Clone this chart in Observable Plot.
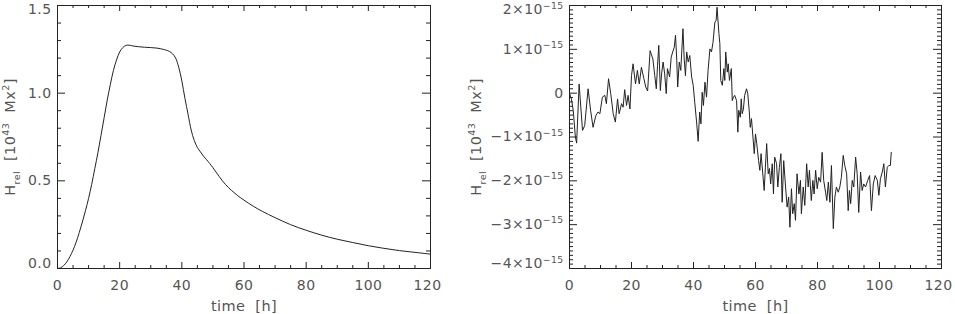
<!DOCTYPE html>
<html><head><meta charset="utf-8">
<script src="https://cdn.jsdelivr.net/npm/d3@7"></script>
<script src="https://cdn.jsdelivr.net/npm/@observablehq/plot@0.6"></script>
<style>
html,body{margin:0;padding:0;background:#fff;}
#wrap{display:flex;width:955px;height:314px;overflow:hidden;}
#wrap svg{display:block;}
</style></head><body><div id="wrap"></div>
<script>
// ---- Left panel: relative helicity, units 1e43 Mx^2 ----
const leftTime = [0,1,2,3,4,5,6,7,8,9,10,11,12,13,14,15,16,17,18,19,20,21,22,23,24,26,28,30,32,34,35,36,37,38,39,40,41,42,43,44,45,46,47,48,50,52,54,56,58,60,63,66,70,75,80,85,90,95,100,105,110,115,120];
const leftH = [0,0.004,0.017,0.038,0.068,0.105,0.15,0.205,0.265,0.33,0.40,0.48,0.57,0.66,0.76,0.86,0.96,1.05,1.13,1.19,1.235,1.26,1.272,1.274,1.27,1.265,1.262,1.26,1.257,1.25,1.245,1.238,1.225,1.20,1.148,1.07,0.97,0.88,0.79,0.73,0.69,0.665,0.64,0.62,0.575,0.525,0.48,0.445,0.415,0.39,0.355,0.325,0.29,0.25,0.218,0.19,0.167,0.148,0.13,0.115,0.102,0.092,0.082];

// ---- Right panel: residual, units 1e-15 (x 1e43 Mx^2) ----
const rightTime = [0,0.6,1.2,1.9,2.3,3.1,4.2,4.9,6.0,6.8,7.6,8.5,9.2,9.8,10.6,11.4,11.9,12.6,13.3,14.1,14.8,15.5,16.0,16.8,17.3,17.8,18.4,18.9,19.5,20.0,20.5,21.3,21.9,22.5,23.2,24.0,24.6,25.2,26.0,26.9,27.5,28.0,28.4,28.8,29.3,29.7,30.2,30.7,31.2,31.6,32.3,32.8,33.3,33.8,34.2,34.6,34.9,35.4,35.9,36.6,37.0,37.4,37.8,38.3,38.8,39.4,39.9,40.4,41.0,41.5,42.0,42.4,42.8,43.2,43.7,44.2,44.7,45.3,45.8,46.3,46.9,47.3,47.6,48.2,48.5,48.8,49.3,49.8,50.1,50.4,50.9,51.2,51.6,52.2,52.5,52.9,53.3,53.9,54.3,54.6,55.1,55.4,55.7,56.1,56.5,57.1,57.5,58.0,58.3,58.7,59.1,59.6,60.0,60.4,61.0,61.4,61.8,62.3,62.8,63.2,63.6,64.1,64.5,64.9,65.4,65.8,66.2,66.8,67.2,67.7,68.2,68.6,69.1,69.7,70.2,70.7,71.1,71.6,72.0,72.5,72.9,73.4,74.0,74.5,74.8,75.4,75.9,76.5,77.0,77.4,78.0,78.5,78.9,79.4,79.9,80.4,81.0,81.5,82.0,82.6,83.0,83.5,84.0,84.5,85.1,85.6,86.1,86.7,87.2,87.7,88.3,88.8,89.4,89.9,90.3,90.7,91.2,91.7,92.3,92.8,93.3,93.9,94.4,94.9,95.5,96.2,96.8,97.4,98.0,98.6,99.3,99.8,100.3,100.9,101.4,101.9,102.5,103.0,103.5,103.8];
const rightH = [0,-0.13,-0.39,-1.0,-1.14,0.21,-0.85,-0.74,0.1,-0.39,-0.78,-0.51,-0.43,-0.47,-0.09,-0.05,-0.24,0.33,-0.01,-0.47,-0.66,-0.13,-0.47,-0.24,-0.32,0.08,-0.28,-0.05,-0.36,0.40,0.67,0.21,0.52,0.21,0.59,0.33,0.14,0.05,0.97,0.78,0.40,0.10,0.63,1.09,0.06,0.44,0.71,0.44,-0.01,0.56,0.37,0.82,0.94,1.05,1.32,0.75,0.14,0.71,0.52,1.47,0.78,0.40,0.94,0.71,0.86,0.37,0.18,-0.21,-0.66,-1.10,-0.43,-0.70,0.02,-0.28,0.25,-0.09,0.52,1.01,0.94,1.16,1.62,1.66,1.96,1.36,1.13,0.29,0.18,0.56,0.29,0.94,0.48,0.67,0.29,0.56,-0.17,-0.09,-0.05,-0.17,-0.89,-0.39,-0.55,-0.13,-0.47,-0.36,-0.05,0.10,-0.01,-0.43,-0.78,-0.58,-0.93,-1.38,-0.93,-1.15,-1.54,-1.76,-1.38,-1.80,-2.22,-1.69,-1.15,-1.84,-1.72,-2.07,-1.61,-2.30,-1.46,-1.61,-2.14,-1.69,-1.38,-2.49,-1.54,-2.14,-2.60,-2.37,-3.06,-2.18,-2.75,-2.52,-2.90,-1.84,-2.30,-1.99,-2.75,-2.14,-2.56,-1.61,-2.14,-1.76,-2.45,-1.99,-2.30,-1.76,-2.18,-1.92,-2.03,-1.35,-1.99,-2.26,-2.45,-2.03,-2.49,-1.65,-3.09,-2.37,-2.14,-2.26,-2.14,-1.92,-1.42,-1.65,-1.84,-2.68,-2.22,-2.52,-1.99,-2.14,-1.46,-1.84,-2.72,-1.80,-2.22,-2.07,-2.14,-1.99,-1.88,-2.68,-2.07,-1.88,-1.99,-2.33,-1.95,-1.80,-1.61,-2.14,-1.69,-1.65,-1.65,-1.35];

// ---- Ticks and labels ----
const xMajor = [0,20,40,60,80,100,120];
const xMinor = [5,10,15,25,30,35,45,50,55,65,70,75,85,90,95,105,110,115];
const leftYMajor = [0,0.5,1.0,1.5];
const leftYMinor = [0.1,0.2,0.3,0.4,0.6,0.7,0.8,0.9,1.1,1.2,1.3,1.4];
const rightYMajor = [-4,-3,-2,-1,0,1,2];
const rightYMinor = d3.range(-40,21).map(v=>v/10).filter(v=>Math.abs(v-Math.round(v))>1e-6);
const xTitle = "time  [h]";
const yTitle = "H_{rel}  [10^{43}  Mx^{2}]";

const FONT = "DejaVu Sans";
const INK = "#222", TXT = "#555";

function panel(o) {
  const height = 314, marginTop = 5, marginBottom = 46;
  const FH = height - marginTop - marginBottom;
  const FW = o.width - o.marginLeft - o.marginRight;
  const yMid = o.yMajor.slice(1, -1);
  const yLo = [o.yMajor[0]], yHi = [o.yMajor[o.yMajor.length-1]];
  const xMid = xMajor.slice(0, -1), xHi = [xMajor[xMajor.length-1]];
  const ya = (t, dy) => Plot.axisY(t, {tickSize: 0, tickPadding: 6, tickFormat: o.yFormat, dy, fill: TXT, label: null});
  const xa = (t, dx) => Plot.axisX(t, {tickSize: 0, tickPadding: 12, tickFormat: d => String(d), dx, fill: TXT, label: null});
  return Plot.plot({
    width: o.width, height, marginTop, marginBottom, marginLeft: o.marginLeft, marginRight: o.marginRight,
    x: {domain: [0, 120], label: null},
    y: {domain: o.yDomain, label: null},
    style: {fontFamily: FONT, fontSize: "14px", letterSpacing: "0.4px", background: "white", color: TXT},
    marks: [
      // inward ticks, all four sides
      Plot.ruleX(xMajor, {x: d => d, insetTop: FH - 6, stroke: INK}),
      Plot.ruleX(xMajor, {x: d => d, insetBottom: FH - 6, stroke: INK}),
      Plot.ruleX(xMinor, {x: d => d, insetTop: FH - 3, stroke: INK}),
      Plot.ruleX(xMinor, {x: d => d, insetBottom: FH - 3, stroke: INK}),
      Plot.ruleY(o.yMajor, {y: d => d, insetRight: FW - 8, stroke: INK}),
      Plot.ruleY(o.yMajor, {y: d => d, insetLeft: FW - 8, stroke: INK}),
      Plot.ruleY(o.yMinor, {y: d => d, insetRight: FW - 4, stroke: INK}),
      Plot.ruleY(o.yMinor, {y: d => d, insetLeft: FW - 4, stroke: INK}),
      Plot.frame({stroke: INK}),
      ya(yMid, 0), ya(yLo, -4.5), ya(yHi, 4.5),
      xa(xMid, 0), xa(xHi, -3),
      Plot.line(o.data, {x: "t", y: "h", stroke: INK, strokeWidth: 1, curve: o.curve}),
      Plot.text([yTitle], {text: d => d, frameAnchor: "left", textAnchor: "middle", lineAnchor: "middle", rotate: -90, dx: o.titleDx, fontSize: 14.5, fill: TXT}),
      Plot.text([xTitle], {text: d => d, frameAnchor: "bottom", textAnchor: "middle", lineAnchor: "bottom", dy: 42, fontSize: 14.5, fill: TXT})
    ]
  });
}

function richify(svg) {
  const NS = "http://www.w3.org/2000/svg";
  d3.select(svg).selectAll("text").each(function() {
    const s = this.textContent;
    if (!/[\^_]\{/.test(s)) return;
    const base = parseFloat(getComputedStyle(this).fontSize) || 14;
    const parts = []; const re = /([\^_])\{([^}]*)\}/g; let last = 0, m;
    while ((m = re.exec(s))) {
      if (m.index > last) parts.push({t: s.slice(last, m.index), k: ""});
      parts.push({t: m[2], k: m[1]}); last = re.lastIndex;
    }
    if (last < s.length) parts.push({t: s.slice(last), k: ""});
    this.textContent = "";
    let cur = 0;
    for (const p of parts) {
      const ts = document.createElementNS(NS, "tspan");
      const target = p.k === "^" ? -0.42 * base : p.k === "_" ? 0.3 * base : 0;
      if (target !== cur) ts.setAttribute("dy", (target - cur).toFixed(2));
      cur = target;
      if (p.k) ts.setAttribute("font-size", (0.66 * base).toFixed(2));
      ts.textContent = p.t;
      this.appendChild(ts);
    }
  });
}

const wrap = document.getElementById("wrap");
const left = panel({
  data: leftTime.map((t, i) => ({t, h: leftH[i]})), curve: "catmull-rom",
  width: 465, marginLeft: 57, marginRight: 35, yDomain: [0, 1.5],
  yMajor: leftYMajor, yMinor: leftYMinor, yFormat: d3.format(".1f"), titleDx: -47
});
const right = panel({
  data: rightTime.map((t, i) => ({t, h: rightH[i]})), curve: "linear",
  width: 490, marginLeft: 104, marginRight: 14, yDomain: [-4, 2],
  yMajor: rightYMajor, yMinor: rightYMinor,
  yFormat: v => v === 0 ? "0" : (v < 0 ? "\u2212" : "") + Math.abs(v) + "\u00d710^{\u221215}",
  titleDx: -93
});
wrap.append(left, right);
richify(left); richify(right);
</script>
</body></html>
